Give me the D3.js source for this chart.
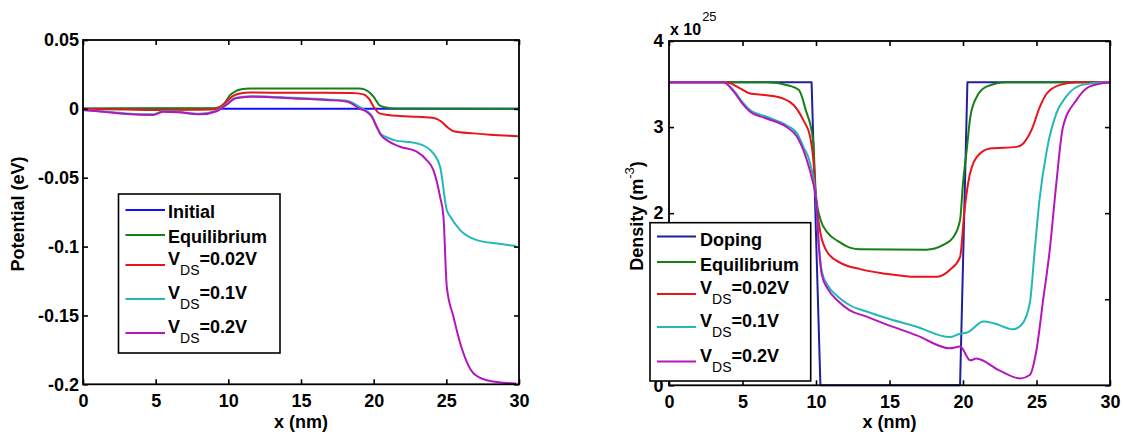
<!DOCTYPE html>
<html>
<head>
<meta charset="utf-8">
<script src="https://cdn.jsdelivr.net/npm/d3@7"></script>
<style>
  html, body { margin: 0; padding: 0; background: #ffffff; }
  svg { display: block; }
  text { font-family: "Liberation Sans", Arial, Helvetica, sans-serif; }
</style>
</head>
<body>
<svg id="chart" width="1123" height="438"></svg>
<script>
// ---------------- DATA ----------------
// Left panel: potential (eV) vs x (nm)
const potTicksX = [0, 5, 10, 15, 20, 25, 30];
const potTicksY = [0.05, 0, -0.05, -0.1, -0.15, -0.2];
const potTickLabelsY = ["0.05", "0", "-0.05", "-0.1", "-0.15", "-0.2"];

const initialX = [0, 30];
const initialY = [0, 0];

const eqPotX = [0, 5, 9, 9.5, 9.8, 10.1, 10.5, 10.9, 11.5, 15, 19, 19.4, 19.7, 20.0, 20.4, 20.85, 21.5, 30];
const eqPotY = [0.0002, 0.0004, 0.0005, 0.0018, 0.005, 0.0098, 0.0128, 0.0142, 0.0147, 0.0148, 0.0147, 0.014, 0.012, 0.0087, 0.0026, 0.001, 0.0002, 0];

const v002PotX = [0, 3, 5, 8, 9, 9.5, 9.9, 10.3, 10.8, 11.5, 15, 18.5, 19.3, 19.7, 20.0, 20.4, 21.0, 21.8, 23.0, 24.2, 24.6, 25.1, 25.5, 26.9, 28, 30];
const v002PotY = [0, -0.0005, -0.0008, -0.0006, -0.0003, 0.0018, 0.0055, 0.0092, 0.0112, 0.0118, 0.0117, 0.0115, 0.0105, 0.007, 0.0015, -0.0033, -0.0045, -0.0052, -0.0058, -0.0068, -0.0088, -0.0135, -0.0162, -0.0178, -0.0188, -0.0198];

const v01PotX = [0, 1, 3, 4.8, 5.5, 6.5, 8, 9.2, 9.86, 10.5, 11.5, 14.5, 16.8, 18.2, 19.1, 19.5, 19.9, 20.2, 20.5, 21.0, 21.4, 23.0, 23.9, 24.57, 25.03, 25.26, 25.95, 27.1, 28.5, 29.8];
const v01PotY = [-0.0008, -0.0015, -0.0033, -0.004, -0.0017, -0.0021, -0.0035, -0.0013, 0.0032, 0.008, 0.0092, 0.008, 0.0068, 0.0057, 0.001, -0.0015, -0.0055, -0.013, -0.0185, -0.021, -0.0227, -0.0251, -0.030, -0.042, -0.0735, -0.078, -0.088, -0.0953, -0.0978, -0.0995];

const v02PotX = [0, 1, 3, 4.84, 5.5, 6.5, 8.05, 9.2, 9.86, 10.5, 11.5, 14.5, 16.8, 18.2, 19.06, 19.5, 19.87, 20.21, 20.5, 20.9, 21.82, 22.96, 23.65, 24.11, 24.57, 24.8, 25.03, 25.49, 25.95, 26.87, 27.79, 29.8];
const v02PotY = [-0.0009, -0.0017, -0.0038, -0.0045, -0.0021, -0.0025, -0.004, -0.0017, 0.0028, 0.0076, 0.0088, 0.0076, 0.0064, 0.0052, 0, -0.002, -0.0057, -0.013, -0.019, -0.0227, -0.0275, -0.0311, -0.0372, -0.0445, -0.0639, -0.078, -0.129, -0.151, -0.170, -0.192, -0.197, -0.1995];

// Right panel: density (x 10^25 m^-3) vs x (nm)
const denTicksX = [0, 5, 10, 15, 20, 25, 30];
const denTicksY = [0, 1, 2, 3, 4];
const denTickLabelsY = ["0", "1", "2", "3", "4"];

const dopingX = [0, 9.7, 10.3, 19.8, 20.3, 30];
const dopingY = [3.52, 3.52, 0, 0, 3.52, 3.52];

const eqDenX = [0, 6.6, 8.2, 8.84, 9.3, 9.8, 10.0, 10.3, 10.8, 11.5, 12.3, 13, 17.5, 18.66, 19.34, 19.8, 20.0, 20.25, 20.5, 20.93, 21.6, 23, 30];
const eqDenY = [3.52, 3.52, 3.48, 3.43, 3.2, 2.85, 2.2, 1.93, 1.77, 1.675, 1.60, 1.58, 1.575, 1.63, 1.72, 1.92, 2.35, 2.73, 3.12, 3.35, 3.47, 3.52, 3.52];

const v002DenX = [0, 3.9, 4.83, 5.5, 6.64, 7.78, 8.46, 9.14, 9.6, 9.82, 10.0, 10.3, 10.8, 11.7, 13, 14.6, 16.85, 18.2, 19.1, 19.8, 20.1, 20.35, 20.93, 21.84, 23.65, 24.1, 24.67, 25.24, 25.7, 26.6, 27.7, 30];
const v002DenY = [3.52, 3.52, 3.45, 3.39, 3.37, 3.33, 3.26, 3.08, 2.89, 2.62, 2.16, 1.77, 1.54, 1.42, 1.35, 1.30, 1.26, 1.26, 1.34, 1.49, 2.03, 2.35, 2.65, 2.75, 2.77, 2.81, 2.97, 3.24, 3.39, 3.49, 3.52, 3.52];

const v01DenX = [0, 3.7, 4.37, 5.05, 5.5, 6.64, 8.0, 8.7, 9.14, 9.6, 10.0, 10.2, 10.4, 10.8, 11.5, 12.3, 13.4, 14.6, 16.85, 19.1, 19.8, 20.25, 21.4, 22.1, 23.4, 23.97, 24.54, 24.88, 25.2, 25.7, 26.35, 27.0, 28.1, 29.7, 30];
const v01DenY = [3.52, 3.52, 3.43, 3.28, 3.20, 3.12, 3.02, 2.93, 2.77, 2.58, 2.16, 1.62, 1.32, 1.16, 1.03, 0.93, 0.86, 0.79, 0.68, 0.56, 0.60, 0.61, 0.74, 0.72, 0.65, 0.70, 0.95, 1.57, 2.15, 2.73, 3.16, 3.35, 3.49, 3.52, 3.52];

const v02DenX = [0, 3.7, 4.37, 5.05, 5.5, 6.64, 8.0, 8.7, 9.37, 9.7, 10.0, 10.2, 10.4, 10.8, 11.5, 12.3, 13.4, 14.6, 16.85, 19.1, 19.8, 20.5, 20.9, 22.5, 23.9, 24.54, 25.0, 25.45, 25.9, 26.35, 26.8, 27.7, 28.6, 30];
const v02DenY = [3.52, 3.52, 3.42, 3.26, 3.18, 3.10, 3.0, 2.89, 2.62, 2.42, 2.16, 1.6, 1.28, 1.12, 0.98, 0.87, 0.80, 0.72, 0.58, 0.43, 0.45, 0.29, 0.31, 0.17, 0.08, 0.12, 0.41, 0.99, 1.57, 2.35, 3.0, 3.31, 3.47, 3.52];

const potLegend = ["Initial", "Equilibrium", "=0.02V", "=0.1V", "=0.2V"];
const denLegend = ["Doping", "Equilibrium", "=0.02V", "=0.1V", "=0.2V"];

// ---------------- DRAWING ----------------
const svg = d3.select("#chart");
svg.append("rect").attr("width", 1123).attr("height", 438).attr("fill", "#ffffff");

const FONT = "Liberation Sans, Arial, sans-serif";

function panel(cfg) {
  const g = svg.append("g");
  const x = d3.scaleLinear().domain([0, 30]).range([cfg.left, cfg.right]);
  const y = d3.scaleLinear().domain(cfg.yDomain).range([cfg.bottom, cfg.top]);

  // curves
  const line = d3.line().x(d => x(d[0])).y(d => y(d[1])).curve(d3.curveMonotoneX);
  cfg.series.forEach(s => {
    const pts = s.xs.map((v, i) => [v, s.ys[i]]);
    g.append("path").datum(pts).attr("d", s.linear ? d3.line().x(d => x(d[0])).y(d => y(d[1]))(pts) : line)
      .attr("fill", "none").attr("stroke", s.color).attr("stroke-width", 2)
      .attr("stroke-linejoin", "round");
  });

  // axes
  const styleAxis = sel => {
    sel.select(".domain").remove();
    sel.selectAll(".tick line").attr("stroke", "#000").attr("stroke-width", 1.6);
    sel.selectAll("text").attr("font-family", FONT).attr("font-size", 18)
      .attr("font-weight", "bold").attr("fill", "#000");
  };
  g.append("g").attr("transform", `translate(0,${cfg.bottom})`)
    .call(d3.axisBottom(x).tickValues(cfg.xTicks).tickSizeInner(-5).tickSizeOuter(0).tickPadding(9.6).tickFormat(d3.format("d")))
    .call(styleAxis);
  g.append("g").attr("transform", `translate(0,${cfg.top})`)
    .call(d3.axisTop(x).tickValues(cfg.xTicks).tickSizeInner(-5).tickSizeOuter(0).tickFormat(""))
    .call(styleAxis);
  g.append("g").attr("transform", `translate(${cfg.left},0)`)
    .call(d3.axisLeft(y).tickValues(cfg.yTicks).tickSizeInner(-5).tickSizeOuter(0).tickPadding(cfg.yPad)
      .tickFormat((d, i) => cfg.yLabels[i]))
    .call(styleAxis);
  g.append("g").attr("transform", `translate(${cfg.right},0)`)
    .call(d3.axisRight(y).tickValues(cfg.yTicks).tickSizeInner(-5).tickSizeOuter(0).tickFormat(""))
    .call(styleAxis);

  // box
  g.append("rect").attr("x", cfg.left).attr("y", cfg.top)
    .attr("width", cfg.right - cfg.left).attr("height", cfg.bottom - cfg.top)
    .attr("fill", "none").attr("stroke", "#000").attr("stroke-width", 1.8);

  // x label
  g.append("text").attr("x", (cfg.left + cfg.right) / 2).attr("y", 428)
    .attr("text-anchor", "middle").attr("font-family", FONT).attr("font-size", 18)
    .attr("font-weight", "bold").text("x (nm)");

  // legend
  const L = cfg.legend;
  const lg = g.append("g");
  lg.append("rect").attr("x", L.x0).attr("y", L.y0).attr("width", L.x1 - L.x0).attr("height", L.y1 - L.y0)
    .attr("fill", "#fff").attr("stroke", "#000").attr("stroke-width", 1.6);
  cfg.series.forEach((s, i) => {
    const ly = L.rows[i];
    lg.append("line").attr("x1", L.lx0).attr("x2", L.lx1).attr("y1", ly).attr("y2", ly)
      .attr("stroke", s.color).attr("stroke-width", 2);
    const t = lg.append("text").attr("x", L.tx).attr("font-family", FONT).attr("fill", "#000");
    if (i < 2) {
      t.attr("y", ly + L.plainOff).attr("font-size", 18).attr("font-weight", "bold").text(L.labels[i]);
    } else {
      t.attr("y", ly);
      t.append("tspan").attr("font-size", 18).attr("font-weight", "bold").text("V");
      t.append("tspan").attr("font-size", 14).attr("font-weight", "normal").attr("dy", 10).text("DS");
      t.append("tspan").attr("font-size", 18).attr("font-weight", "bold").attr("dy", -10).text(L.labels[i]);
    }
  });
  return g;
}

const colorsL = ["#1010ff", "#168016", "#e8141c", "#22b8b8", "#b416bc"];
const colorsR = ["#20209f", "#168016", "#e8141c", "#22b8b8", "#b416bc"];

const left = panel({
  left: 83, right: 519, top: 40, bottom: 384.3,
  yDomain: [-0.2, 0.05], xTicks: potTicksX, yTicks: potTicksY, yLabels: potTickLabelsY, yPad: 4,
  series: [
    { xs: initialX, ys: initialY, color: colorsL[0], linear: true },
    { xs: eqPotX, ys: eqPotY, color: colorsL[1] },
    { xs: v002PotX, ys: v002PotY, color: colorsL[2] },
    { xs: v01PotX, ys: v01PotY, color: colorsL[3] },
    { xs: v02PotX, ys: v02PotY, color: colorsL[4] }
  ],
  legend: { x0: 118.5, x1: 280, y0: 194, y1: 353, lx0: 125.5, lx1: 165, tx: 168,
            rows: [210, 235, 265, 299, 333], plainOff: 7.5, labels: potLegend }
});

const right = panel({
  left: 669, right: 1110, top: 41, bottom: 385.3,
  yDomain: [0, 4], xTicks: denTicksX, yTicks: denTicksY, yLabels: denTickLabelsY, yPad: 5.5,
  series: [
    { xs: dopingX, ys: dopingY, color: colorsR[0], linear: true },
    { xs: eqDenX, ys: eqDenY, color: colorsR[1] },
    { xs: v002DenX, ys: v002DenY, color: colorsR[2] },
    { xs: v01DenX, ys: v01DenY, color: colorsR[3] },
    { xs: v02DenX, ys: v02DenY, color: colorsR[4] }
  ],
  legend: { x0: 650, x1: 810.7, y0: 222.7, y1: 381, lx0: 657, lx1: 696, tx: 700,
            rows: [236.5, 262, 294, 327, 361.5], plainOff: 9, labels: denLegend }
});

// y-axis labels
svg.append("text").attr("transform", "translate(24,214) rotate(-90)")
  .attr("text-anchor", "middle").attr("font-family", FONT).attr("font-size", 18)
  .attr("font-weight", "bold").text("Potential (eV)");

const dl = svg.append("text").attr("transform", "translate(643,216) rotate(-90)")
  .attr("text-anchor", "middle").attr("font-family", FONT).attr("font-weight", "bold").attr("font-size", 18);
dl.append("tspan").text("Density (m");
dl.append("tspan").attr("font-size", 13).attr("font-weight", "normal").attr("dy", -9).text("-3");
dl.append("tspan").attr("dy", 9).text(")");

// exponent label
const ex = svg.append("text").attr("x", 670).attr("y", 35).attr("font-family", FONT);
ex.append("tspan").attr("font-size", 16).attr("font-weight", "bold").text("x 10");
ex.append("tspan").attr("font-size", 13).attr("dy", -14).attr("dx", 1).text("25");
</script>
</body>
</html>
